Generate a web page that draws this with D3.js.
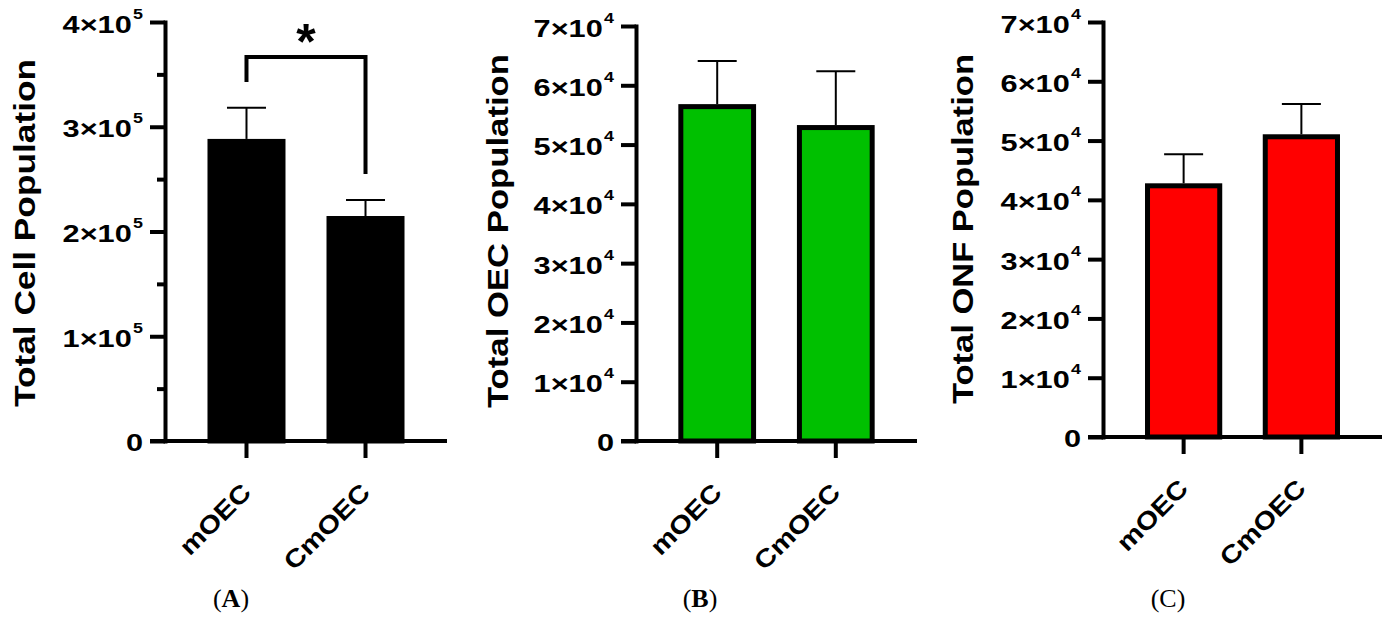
<!DOCTYPE html>
<html><head><meta charset="utf-8">
<script src="https://cdn.jsdelivr.net/npm/d3@7"></script>
<style>body{margin:0;background:#fff}svg{display:block}</style>
</head><body>
<svg id="chart" width="1390" height="622"></svg>
<script>
// ---------- data ----------
const categories = ["mOEC", "CmOEC"];
const totalCellMean = [286000, 212400];
const totalCellSem  = [32200, 17600];
const oecMean = [56400, 52870];
const oecSem  = [7710, 9510];
const onfMean = [42370, 50640];
const onfSem  = [5310, 5530];
const yTicksA = [0, 100000, 200000, 300000, 400000];
const yMinorA = [50000, 150000, 250000, 350000];
const yTicksB = [0, 10000, 20000, 30000, 40000, 50000, 60000, 70000];
const yTicksC = [0, 10000, 20000, 30000, 40000, 50000, 60000, 70000];
const yTitles = ["Total Cell Population", "Total OEC Population", "Total ONF Population"];
const panelLetters = ["A", "B", "C"];
const sigFrom = "mOEC", sigTo = "CmOEC";
const sigLevel = 366600, sigLeftEnd = 342700, sigRightEnd = 254900, sigLabel = "*";

// ---------- layout ----------
const panels = [
  {mean: totalCellMean, sem: totalCellSem, ticks: yTicksA, minor: yMinorA, max: 400000, exp: 5,
   ax: 165, xEnd: 447, y0: 441, yTop: 22, fill: "#000000", title: yTitles[0],
   titleX: 35, titleY: 233, titleLen: 348, letter: panelLetters[0], letterX: 231, letterBold: true},
  {mean: oecMean, sem: oecSem, ticks: yTicksB, minor: [], max: 70000, exp: 4,
   ax: 636, xEnd: 917, y0: 441, yTop: 26, fill: "#00C000", title: yTitles[1],
   titleX: 508, titleY: 231, titleLen: 354, letter: panelLetters[1], letterX: 700, letterBold: true},
  {mean: onfMean, sem: onfSem, ticks: yTicksC, minor: [], max: 70000, exp: 4,
   ax: 1103, xEnd: 1382, y0: 437, yTop: 22, fill: "#FF0000", title: yTitles[2],
   titleX: 973, titleY: 229, titleLen: 350, letter: panelLetters[2], letterX: 1168, letterBold: false}
];

const svg = d3.select("#chart");
const FONT = "'Liberation Sans', Arial, Helvetica, sans-serif";
const WIDE = 1.28;

panels.forEach((p, pi) => {
  const g = svg.append("g");
  const x = d3.scaleBand().domain(categories).range([p.ax, p.xEnd])
    .paddingInner(0.3866).paddingOuter(0.378);
  const y = d3.scaleLinear().domain([0, p.max]).range([p.y0, p.yTop]);

  // bars
  g.selectAll("rect.bar").data(categories).join("rect")
    .attr("class", "bar")
    .attr("x", d => x(d))
    .attr("width", x.bandwidth())
    .attr("y", (d, i) => y(p.mean[i]))
    .attr("height", (d, i) => p.y0 - y(p.mean[i]))
    .attr("fill", p.fill).attr("stroke", "#000").attr("stroke-width", 5);

  // error bars
  const cx = d => x(d) + x.bandwidth() / 2;
  g.selectAll("line.err").data(categories).join("line")
    .attr("x1", cx).attr("x2", cx)
    .attr("y1", (d, i) => y(p.mean[i]) - 2.5)
    .attr("y2", (d, i) => y(p.mean[i] + p.sem[i]))
    .attr("stroke", "#000").attr("stroke-width", 2);
  g.selectAll("line.cap").data(categories).join("line")
    .attr("x1", d => cx(d) - 19.5).attr("x2", d => cx(d) + 19.5)
    .attr("y1", (d, i) => y(p.mean[i] + p.sem[i]))
    .attr("y2", (d, i) => y(p.mean[i] + p.sem[i]))
    .attr("stroke", "#000").attr("stroke-width", 2);

  // y axis
  const yAxis = d3.axisLeft(y).tickValues(p.ticks).tickSize(15).tickSizeOuter(0).tickFormat("");
  const ya = g.append("g").attr("transform", `translate(${p.ax},0)`).call(yAxis);
  ya.select(".domain").attr("stroke-width", 4).attr("stroke-linecap", "square");
  ya.selectAll(".tick line").attr("stroke-width", 4);
  ya.selectAll(".tick text").remove();
  ya.selectAll(".tick").append("text")
    .attr("text-anchor", "end")
    .attr("fill", "#000")
    .style("font-family", FONT).style("font-weight", "bold")
    .each(function(d) {
      const t = d3.select(this);
      if (d === 0) {
        t.attr("transform", `translate(-22,9) scale(${WIDE},1)`).style("font-size", "24px").text("0");
      } else {
        const m = d / Math.pow(10, p.exp);
        t.attr("transform", `translate(-22,10) scale(${WIDE},1)`);
        t.append("tspan").style("font-size", "24px").text(m + "×10");
        t.append("tspan").style("font-size", "14px").attr("dy", -14).attr("dx", 1).text(String(p.exp));
      }
    });
  if (p.minor.length) {
    const minorAxis = d3.axisLeft(y).tickValues(p.minor).tickSize(8).tickSizeOuter(0).tickFormat("");
    const mg = g.append("g").attr("transform", `translate(${p.ax},0)`).call(minorAxis);
    mg.select(".domain").remove();
    mg.selectAll(".tick line").attr("stroke-width", 4);
  }

  // x axis
  const xAxis = d3.axisBottom(x).tickSize(17).tickSizeOuter(0);
  const xa = g.append("g").attr("transform", `translate(0,${p.y0})`).call(xAxis);
  xa.select(".domain").remove();
  xa.append("line").attr("x1", p.ax - 15).attr("x2", p.xEnd).attr("y1", 0).attr("y2", 0)
    .attr("stroke", "#000").attr("stroke-width", 4);
  xa.selectAll(".tick line").attr("stroke-width", 4);
  xa.selectAll(".tick text")
    .attr("x", 0).attr("y", 0).attr("dy", null)
    .attr("transform", "translate(6,53) rotate(-45) scale(1.16,1)")
    .attr("text-anchor", "end").attr("fill", "#000")
    .style("font-family", FONT).style("font-weight", "bold")
    .style("font-size", "25px");

  // y title
  g.append("text")
    .attr("transform", `translate(${p.titleX},${p.titleY}) rotate(-90)`)
    .attr("text-anchor", "middle")
    .attr("textLength", p.titleLen).attr("lengthAdjust", "spacingAndGlyphs")
    .style("font-family", FONT).style("font-weight", "bold").style("font-size", "29px")
    .text(p.title);

  // panel label
  const pl = g.append("text").attr("x", p.letterX).attr("y", 607).attr("text-anchor", "middle")
    .style("font-family", "'Liberation Serif', 'Times New Roman', serif").style("font-size", "26px");
  pl.append("tspan").text("(");
  pl.append("tspan").style("font-weight", p.letterBold ? "bold" : "normal").text(p.letter);
  pl.append("tspan").text(")");

  // significance
  if (pi === 0) {
    const x1 = cx(sigFrom), x2 = cx(sigTo);
    g.append("path")
      .attr("d", `M${x1},${y(sigLeftEnd)}V${y(sigLevel)}H${x2}V${y(sigRightEnd)}`)
      .attr("fill", "none").attr("stroke", "#000").attr("stroke-width", 4);
    g.append("text").attr("x", (x1 + x2) / 2).attr("y", 59).attr("text-anchor", "middle")
      .style("font-family", FONT).style("font-weight", "bold").style("font-size", "50px")
      .text(sigLabel);
  }
});
</script>
</body></html>
